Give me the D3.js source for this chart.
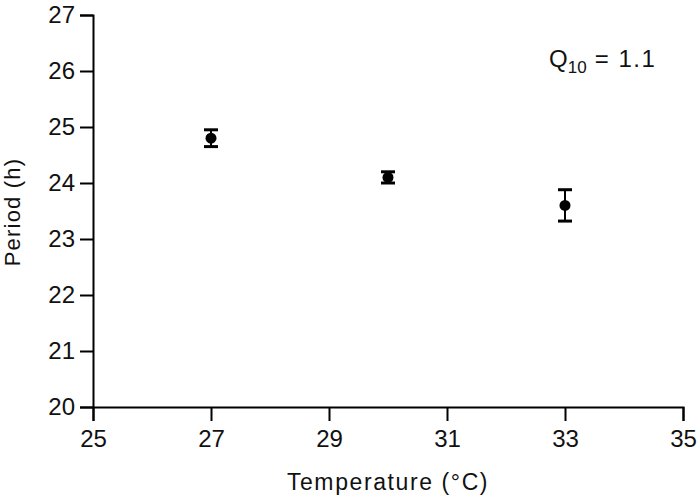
<head>
<script src="https://d3js.org/d3.v7.min.js"></script>
</head>
<body style="margin:0">
<div id="chart"></div>
<script>
// data
const temps = [27, 30, 33];
const periods = [24.8, 24.1, 23.6];
const errs = [0.15, 0.1, 0.28];
const xTicks = [25, 27, 29, 31, 33, 35];
const yTicks = [20, 21, 22, 23, 24, 25, 26, 27];

const width = 700, height = 500;
const margin = {left: 93, right: 17, top: 15, bottom: 93};
const font = "'Liberation Sans', Arial, sans-serif";

const svg = d3.select("#chart").append("svg")
  .attr("width", width).attr("height", height)
  .style("font-family", font);

const x = d3.scaleLinear().domain([25, 35]).range([margin.left, width - margin.right]);
const y = d3.scaleLinear().domain([20, 27]).range([height - margin.bottom, margin.top]);

// axes
const xAxis = svg.append("g")
  .attr("transform", `translate(0,${y(20)})`)
  .call(d3.axisBottom(x).tickValues(xTicks).tickSize(14).tickPadding(9).tickFormat(d3.format("d")));
const yAxis = svg.append("g")
  .attr("transform", `translate(${x(25)},0)`)
  .call(d3.axisLeft(y).tickValues(yTicks).tickSize(13).tickPadding(5).tickFormat(d3.format("d")));

[xAxis, yAxis].forEach(a => {
  a.select(".domain").attr("stroke", "#000").attr("stroke-width", 2);
  a.selectAll(".tick line").attr("stroke", "#000").attr("stroke-width", 2);
  a.selectAll(".tick text").attr("fill", "#111").style("font-size", "24px")
    .style("font-family", font);
});

// error bars
const pts = temps.map((t, i) => ({t: t, p: periods[i], e: errs[i]}));
const g = svg.append("g");
g.selectAll(".bar").data(pts).enter().append("line")
  .attr("x1", d => x(d.t)).attr("x2", d => x(d.t))
  .attr("y1", d => y(d.p + d.e)).attr("y2", d => y(d.p - d.e))
  .attr("stroke", "#000").attr("stroke-width", 2);
["top", "bot"].forEach(k => {
  g.selectAll(".cap-" + k).data(pts).enter().append("line")
    .attr("x1", d => x(d.t) - 7).attr("x2", d => x(d.t) + 7)
    .attr("y1", d => y(k == "top" ? d.p + d.e : d.p - d.e))
    .attr("y2", d => y(k == "top" ? d.p + d.e : d.p - d.e))
    .attr("stroke", "#000").attr("stroke-width", 3);
});
g.selectAll("circle").data(pts).enter().append("circle")
  .attr("cx", d => x(d.t)).attr("cy", d => y(d.p)).attr("r", 5.5)
  .attr("fill", "#000");

// labels
svg.append("text").attr("x", (x(25) + x(35)) / 2).attr("y", 490)
  .attr("text-anchor", "middle").style("font-size", "23px").style("letter-spacing", "1.6px")
  .attr("fill", "#111")
  .text("Temperature (°C)");
svg.append("text").attr("transform", `translate(20,212) rotate(-90)`)
  .attr("text-anchor", "middle").style("font-size", "22px").style("letter-spacing", "1.2px")
  .attr("fill", "#111")
  .text("Period (h)");

const q = svg.append("text").attr("x", 549).attr("y", 67)
  .style("font-size", "24px").attr("fill", "#111");
q.append("tspan").text("Q");
q.append("tspan").attr("dy", 6).style("font-size", "17px").text("10");
q.append("tspan").attr("dy", -6).style("letter-spacing", "1.5px").text("\u00a0=\u00a01.1");
</script>
</body>
